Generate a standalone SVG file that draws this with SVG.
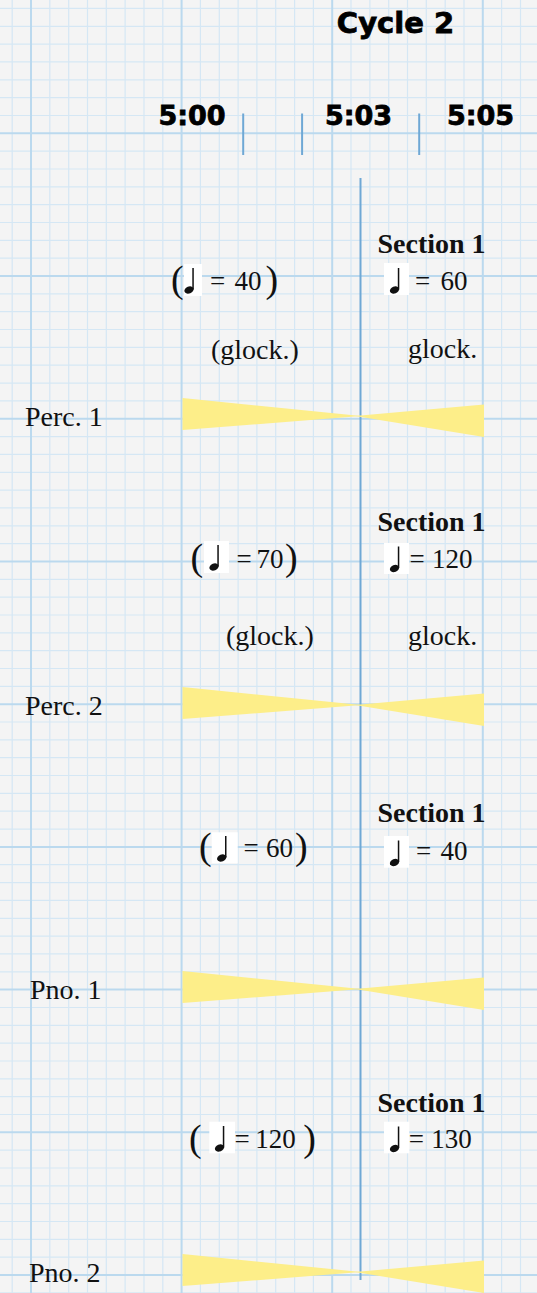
<svg xmlns="http://www.w3.org/2000/svg" width="537" height="1293" viewBox="0 0 537 1293">
<defs>
<style>
.minor{stroke:#d5e7f4;stroke-width:1.2;fill:none}
.major{stroke:#bbd9ee;stroke-width:2;fill:none}
.lbl{font-family:"Liberation Serif","Times New Roman",serif;font-size:28px;fill:#111}
.sec{font-family:"Liberation Serif","Times New Roman",serif;font-size:28px;font-weight:bold;fill:#111}
.tmp{font-family:"Liberation Serif","Times New Roman",serif;font-size:27px;fill:#111}
.par{font-family:"Liberation Serif","Times New Roman",serif;font-size:38px;fill:#111}
.hd{font-family:"DejaVu Sans","Liberation Sans",sans-serif;font-weight:bold;fill:#000;stroke:#000;stroke-width:0.8;text-anchor:middle}
.wedge{fill:#fdee89}
.box{fill:#ffffff}
.tl{stroke:#6fa8d5;stroke-width:2}
</style>
<g id="qn" fill="#111"><ellipse cx="0" cy="0" rx="4.8" ry="3.4" transform="rotate(-22)"/><rect x="3.3" y="-22" width="1.5" height="21.5"/></g>
</defs>
<rect width="537" height="1293" fill="#f4f4f4"/>
<g id="grid">
<path class="minor" d="M12.2 0V1293M49.8 0V1293M68.7 0V1293M87.5 0V1293M106.3 0V1293M125.1 0V1293M144 0V1293M162.8 0V1293M200.4 0V1293M219.3 0V1293M238.1 0V1293M256.9 0V1293M275.7 0V1293M294.6 0V1293M313.4 0V1293M351 0V1293M369.9 0V1293M388.7 0V1293M407.5 0V1293M426.3 0V1293M445.2 0V1293M464 0V1293M501.6 0V1293M520.5 0V1293
M0 8.4H537M0 26.3H537M0 44.1H537M0 61.9H537M0 79.8H537M0 97.6H537M0 115.5H537
M0 151.1H537M0 169H537M0 186.8H537M0 204.7H537M0 222.5H537M0 240.3H537M0 258.2H537
M0 293.9H537M0 311.7H537M0 329.5H537M0 347.4H537M0 365.2H537M0 383.1H537M0 400.9H537
M0 436.6H537M0 454.4H537M0 472.3H537M0 490.1H537M0 507.9H537M0 525.8H537M0 543.6H537
M0 579.3H537M0 597.1H537M0 615H537M0 632.8H537M0 650.7H537M0 668.5H537M0 686.3H537
M0 722H537M0 739.9H537M0 757.7H537M0 775.5H537M0 793.4H537M0 811.2H537M0 829.1H537
M0 864.7H537M0 882.6H537M0 900.4H537M0 918.3H537M0 936.1H537M0 953.9H537M0 971.8H537
M0 1007.5H537M0 1025.3H537M0 1043.1H537M0 1061H537M0 1078.8H537M0 1096.7H537M0 1114.5H537
M0 1150.2H537M0 1168H537M0 1185.9H537M0 1203.7H537M0 1221.5H537M0 1239.4H537M0 1257.2H537
M0 1292.9H537"/>
<path class="major" d="M31 0V1293M181.6 0V1293M332.2 0V1293M482.8 0V1293M0 133.3H537M0 276H537M0 418.7H537M0 561.5H537M0 704.2H537M0 846.9H537M0 989.6H537M0 1132.3H537M0 1275.1H537"/>
</g>
<g id="header">
<text class="hd" x="395.5" y="32.5" font-size="29">Cycle 2</text>
<text class="hd" x="192" y="125" font-size="27">5:00</text>
<text class="hd" x="358.5" y="125" font-size="27">5:03</text>
<text class="hd" x="480.6" y="125" font-size="27">5:05</text>
</g>
<g id="connectors">
<line class="tl" x1="243.2" y1="113.5" x2="243.2" y2="155"/>
<line class="tl" x1="302.1" y1="113.5" x2="302.1" y2="155"/>
<line class="tl" x1="419.2" y1="113.5" x2="419.2" y2="155"/>
<line class="tl" x1="360.5" y1="178" x2="360.5" y2="1280"/>
</g>
<g id="perc1">
<text class="lbl" x="25" y="426">Perc. 1</text>
<polygon class="wedge" points="182.5,398 182.5,430 361,416"/>
<polygon class="wedge" points="355,416 484,404.5 484,437"/>
<text class="lbl" x="211" y="359">(glock.)</text>
<text class="lbl" x="408" y="358">glock.</text>
<text class="par" x="171" y="291.5">(</text>
<rect class="box" x="184" y="264" width="18" height="32"/>
<use href="#qn" x="189" y="290"/>
<text class="tmp" x="210" y="290">=</text>
<text class="tmp" x="234.5" y="290">40</text>
<text class="par" x="265.5" y="291.5">)</text>
<text class="sec" x="377.5" y="252.7">Section 1</text>
<rect class="box" x="384" y="263" width="25" height="32"/>
<use href="#qn" x="394.5" y="290"/>
<text class="tmp" x="415" y="290">=</text>
<text class="tmp" x="440.5" y="290">60</text>
</g>
<g id="perc2">
<text class="lbl" x="25" y="715">Perc. 2</text>
<polygon class="wedge" points="182.5,687 182.5,719 361,705"/>
<polygon class="wedge" points="355,705 484,693.5 484,726"/>
<text class="lbl" x="226" y="645">(glock.)</text>
<text class="lbl" x="408" y="645">glock.</text>
<text class="par" x="190.5" y="570">(</text>
<rect class="box" x="204" y="541" width="25" height="32"/>
<use href="#qn" x="214" y="567"/>
<text class="tmp" x="236.5" y="567.7">=</text>
<text class="tmp" x="256.5" y="567.7">70</text>
<text class="par" x="285" y="570">)</text>
<text class="sec" x="377.5" y="530.5">Section 1</text>
<rect class="box" x="384" y="543" width="25" height="31"/>
<use href="#qn" x="394.5" y="568.5"/>
<text class="tmp" x="409.5" y="567.7">=</text>
<text class="tmp" x="432" y="567.7">120</text>
</g>
<g id="pno1">
<text class="lbl" x="30" y="999">Pno. 1</text>
<polygon class="wedge" points="182.5,971 182.5,1003 361,989"/>
<polygon class="wedge" points="355,989 484,977.5 484,1010"/>
<text class="par" x="199" y="858.5">(</text>
<rect class="box" x="211.7" y="832.3" width="26" height="31"/>
<use href="#qn" x="221.7" y="858"/>
<text class="tmp" x="243.5" y="856.7">=</text>
<text class="tmp" x="266" y="856.7">60</text>
<text class="par" x="295" y="858.5">)</text>
<text class="sec" x="377.5" y="821.7">Section 1</text>
<rect class="box" x="384" y="836" width="25" height="31.7"/>
<use href="#qn" x="394.5" y="862.5"/>
<text class="tmp" x="416" y="860">=</text>
<text class="tmp" x="440.5" y="860">40</text>
</g>
<g id="pno2">
<text class="lbl" x="29" y="1282">Pno. 2</text>
<polygon class="wedge" points="182.5,1254 182.5,1286 361,1272"/>
<polygon class="wedge" points="355,1272 484,1260.5 484,1293"/>
<text class="par" x="189" y="1150.5">(</text>
<rect class="box" x="209.3" y="1121.7" width="25.7" height="31.6"/>
<use href="#qn" x="219.5" y="1148"/>
<text class="tmp" x="234.5" y="1148.3">=</text>
<text class="tmp" x="255.3" y="1148.3">120</text>
<text class="par" x="303.3" y="1150.5">)</text>
<text class="sec" x="377.5" y="1111.7">Section 1</text>
<rect class="box" x="384" y="1121.7" width="25.3" height="31.6"/>
<use href="#qn" x="394.5" y="1148.5"/>
<text class="tmp" x="408.7" y="1148.3">=</text>
<text class="tmp" x="431.3" y="1148.3">130</text>
</g>
</svg>
